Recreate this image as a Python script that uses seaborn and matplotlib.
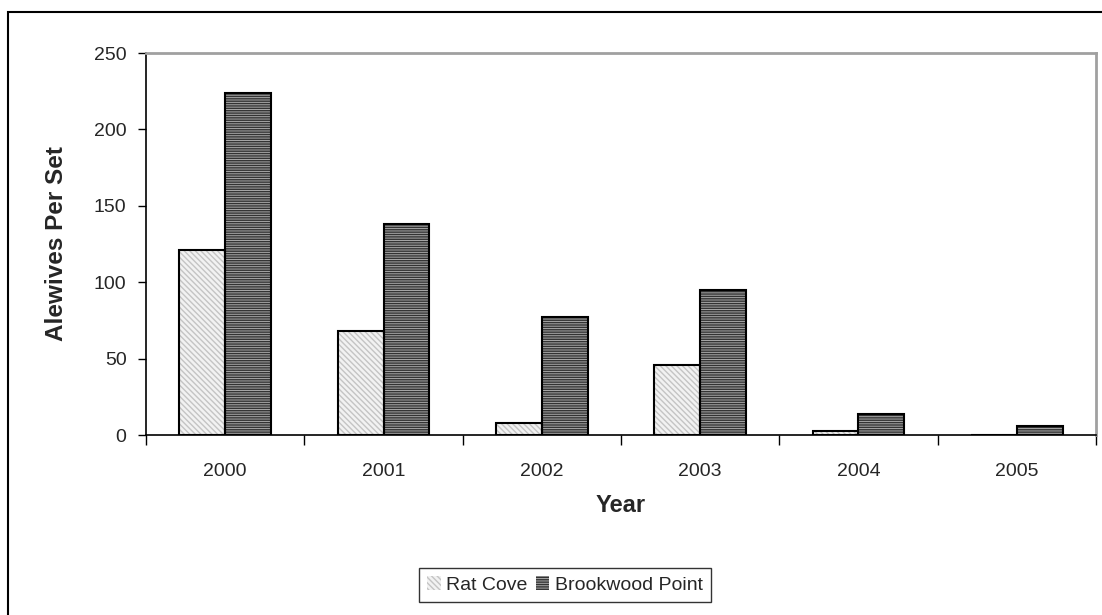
import numpy as np
import pandas as pd
import seaborn as sns
import matplotlib.pyplot as plt
from matplotlib.patches import Rectangle
from matplotlib.ticker import FixedLocator

years = ["2000", "2001", "2002", "2003", "2004", "2005"]
rat_cove = [121, 68, 8, 46, 2.5, 0]
brookwood = [224, 138, 77.5, 95, 13.5, 6]
sites = ["Rat Cove", "Brookwood Point"]

df = pd.DataFrame({
    "Year": years * 2,
    "Alewives": rat_cove + brookwood,
    "Site": [sites[0]] * len(years) + [sites[1]] * len(years),
})

sns.set_style("white")
plt.rcParams["font.family"] = ["Liberation Sans", "DejaVu Sans"]
plt.rcParams["hatch.linewidth"] = 1.0

fig = plt.figure(figsize=(11.02, 6.15), dpi=100)
ax = fig.add_axes([146 / 1102, 1 - 435 / 615, (1096 - 146) / 1102, (435 - 53) / 615])

sns.barplot(data=df, x="Year", y="Alewives", hue="Site", palette=["#f2f2f2", "#a8a8a8"],
            width=0.58, gap=0, ax=ax, legend=False, saturation=1)

# hatch fill, then separate black outline on top
styles = {0: ("\\\\\\\\\\\\", "#c4c4c4"), 1: ("-------", "#333333")}
handles = []
for i, cont in enumerate(ax.containers):
    hatch, hc = styles[i]
    for p in cont.patches:
        p.set_hatch(hatch)
        p.set_edgecolor(hc)
        p.set_linewidth(0)
        ax.add_patch(Rectangle(p.get_xy(), p.get_width(), p.get_height(), fill=False,
                               edgecolor="black", linewidth=1.5, zorder=3))
    handles.append(Rectangle((0, 0), 1, 1, facecolor=cont.patches[0].get_facecolor(),
                             hatch=hatch, edgecolor=hc, linewidth=0))

ax.set_ylim(0, 250)
ax.set_xlim(-0.5, 5.5)
ax.set_yticks([0, 50, 100, 150, 200, 250])
ax.xaxis.set_minor_locator(FixedLocator(np.arange(-0.5, 6, 1)))
ax.tick_params(axis="x", which="major", length=0, labelsize=14, pad=20)
ax.tick_params(axis="x", which="minor", length=7, width=1, color="black", direction="out", bottom=True)
ax.tick_params(axis="y", length=6, width=1, color="black", direction="out", left=True, labelsize=14, pad=8)

for s in ["left", "bottom"]:
    ax.spines[s].set_color("black")
    ax.spines[s].set_linewidth(1.2)
for s in ["top", "right"]:
    ax.spines[s].set_color("#a0a0a0")
    ax.spines[s].set_linewidth(2)

ax.set_xlabel("Year", fontsize=17, fontweight="bold", labelpad=10)
ax.set_ylabel("Alewives Per Set", fontsize=17.5, fontweight="bold", labelpad=19)

leg = fig.legend(handles, sites, loc="center", bbox_to_anchor=(565 / 1102, 1 - 585 / 615),
                 ncol=2, frameon=True, fancybox=False, fontsize=14, handlelength=0.7,
                 handleheight=0.7, handletextpad=0.3, columnspacing=0.4, borderpad=0.4)
leg.get_frame().set_edgecolor("black")
leg.get_frame().set_linewidth(1)

fig.patches.append(Rectangle((8 / 1102, -0.1), 1.2, 1.1 - 12 / 615, transform=fig.transFigure,
                             fill=False, edgecolor="black", linewidth=1.5))

fig.savefig("out.png", dpi=100)
